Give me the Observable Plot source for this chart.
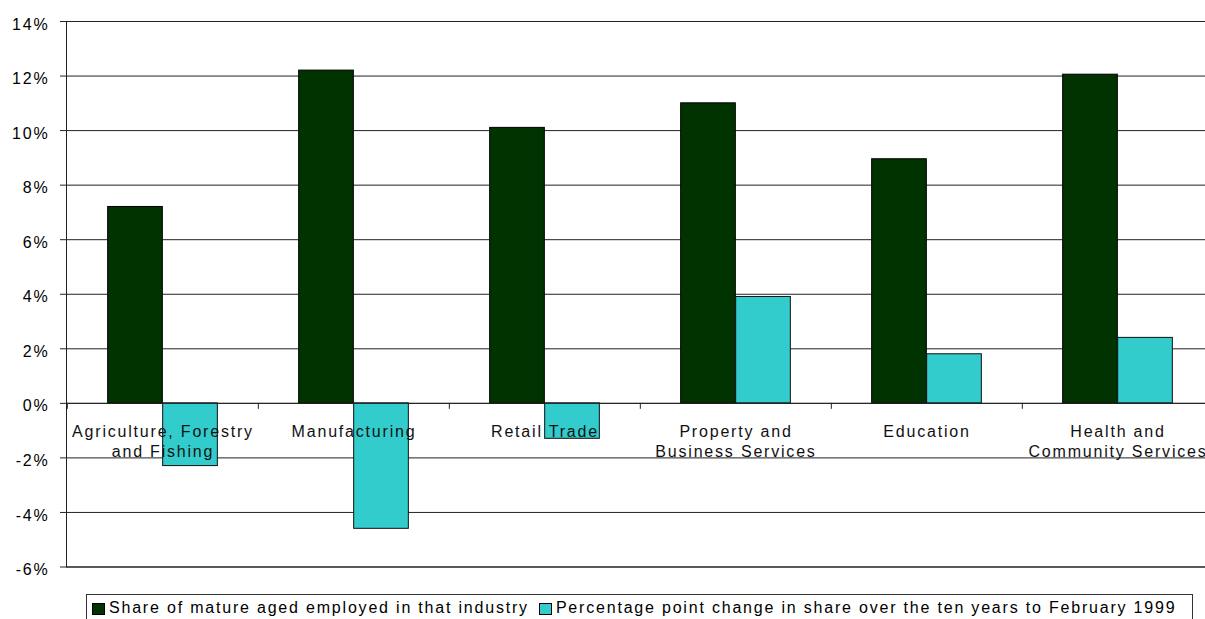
<!DOCTYPE html>
<html>
<head>
<meta charset="utf-8">
<script src="https://cdn.jsdelivr.net/npm/d3@7"></script>
<script src="https://cdn.jsdelivr.net/npm/@observablehq/plot@0.6"></script>
<style>
  html, body { margin: 0; padding: 0; background: #fff; overflow: hidden; width: 1205px; }
  body { font-family: "Liberation Sans", Arial, sans-serif; }
  #page { width: 1205px; height: 619px; overflow: hidden; position: relative; }
  #chart { width: 1205px; overflow: hidden; }
  #chart svg { display: block; max-width: none !important; }
  #legend {
    box-sizing: border-box;
    margin-left: 86px;
    margin-top: 7px;
    width: 1107px;
    height: 34px;
    border: 1px solid #333;
    padding: 5px 0 0 5px;
    font-size: 16px;
    line-height: 16px;
    letter-spacing: 1.8px;
    color: #000;
    white-space: nowrap;
    display: flex;
    align-items: flex-start;
  }
  #legend .item { display: inline-flex; align-items: center; margin-right: 10px; }
  #legend .sw { width: 11px; height: 10px; border: 1px solid #000; margin-right: 4px; margin-top: 1px; }
</style>
</head>
<body>
<div id="page">
<div id="chart"></div>
<div id="legend"></div>
</div>
<script>
const categories = [
  "Agriculture, Forestry and Fishing",
  "Manufacturing",
  "Retail Trade",
  "Property and Business Services",
  "Education",
  "Health and Community Services"
];
const categoryLabels = [
  "Agriculture, Forestry\nand Fishing",
  "Manufacturing",
  "Retail Trade",
  "Property and\nBusiness Services",
  "Education",
  "Health and\nCommunity Services"
];
const seriesNames = [
  "Share of mature aged employed in that industry",
  "Percentage point change in share over the ten years to February 1999"
];
const seriesColors = ["#003300", "#33CCCC"];
const shareValues = [7.2, 12.2, 10.1, 11.0, 8.95, 12.05];
const changeValues = [-2.3, -4.6, -1.3, 3.9, 1.8, 2.4];
const yTicks = [-6, -4, -2, 0, 2, 4, 6, 8, 10, 12, 14];

const shareData = categories.map((c, i) => ({category: c, value: shareValues[i]}));
const changeData = categories.map((c, i) => ({category: c, value: changeValues[i]}));

// layout (styles only)
const W = 1214, H = 587, mL = 66, mR = 0, mT = 21, mB = 20.5;
const bw = (W - mL - mR) / categories.length;
const barFrac = 0.2875;
const plotH = H - mT - mB;
const yZeroPix = mT + plotH * (yTicks[yTicks.length - 1] / (yTicks[yTicks.length - 1] - yTicks[0]));

const chart = Plot.plot({
  width: W,
  height: H,
  marginLeft: mL,
  marginRight: mR,
  marginTop: mT,
  marginBottom: mB,
  style: {
    fontFamily: "'Liberation Sans', Arial, sans-serif",
    fontSize: "16px",
    letterSpacing: "1.8px",
    color: "#000",
    background: "#fff",
    overflow: "visible",
    maxWidth: "none",
    width: W + "px",
    height: H + "px"
  },
  x: {domain: categories, padding: 0, axis: null},
  y: {domain: [yTicks[0], yTicks[yTicks.length - 1]], axis: null},
  marks: [
    Plot.ruleY(yTicks, {stroke: "#222", strokeWidth: 1}),
    Plot.frame({stroke: "#222"}),
    Plot.axisY(yTicks, {tickSize: 6, fill: "none", stroke: "#222"}),
    Plot.axisY(yTicks, {tickSize: 6, tickPadding: 11, stroke: "none", fill: "#000",
      tickFormat: d => d + "%", fontSize: 16, dy: 3, label: null}),
    Plot.barY(shareData, {
      x: "category", y: "value", fill: seriesColors[0], stroke: "#000", strokeWidth: 1,
      insetLeft: bw * (0.5 - barFrac), insetRight: bw * 0.5
    }),
    Plot.barY(changeData, {
      x: "category", y: "value", fill: seriesColors[1], stroke: "#111", strokeWidth: 1,
      insetLeft: bw * 0.5, insetRight: bw * (0.5 - barFrac)
    }),
    Plot.ruleY([0], {stroke: "#222"}),
    Plot.tickX(categories, {
      x: d => d, dx: -bw / 2, stroke: "#222",
      insetTop: yZeroPix - mT, insetBottom: H - mB - yZeroPix - 6
    }),
    Plot.text(categories, {
      x: d => d, y: () => 0, text: (d, i) => categoryLabels[i],
      dy: 19, lineAnchor: "top", lineHeight: 1.25, fontSize: 16, fill: "#111"
    })
  ]
});
document.getElementById("chart").appendChild(chart);

const legend = document.getElementById("legend");
seriesNames.forEach((name, i) => {
  const item = document.createElement("span");
  item.className = "item";
  const sw = document.createElement("span");
  sw.className = "sw";
  sw.style.background = seriesColors[i];
  const label = document.createElement("span");
  label.textContent = name;
  item.appendChild(sw);
  item.appendChild(label);
  legend.appendChild(item);
});
</script>
</body>
</html>
